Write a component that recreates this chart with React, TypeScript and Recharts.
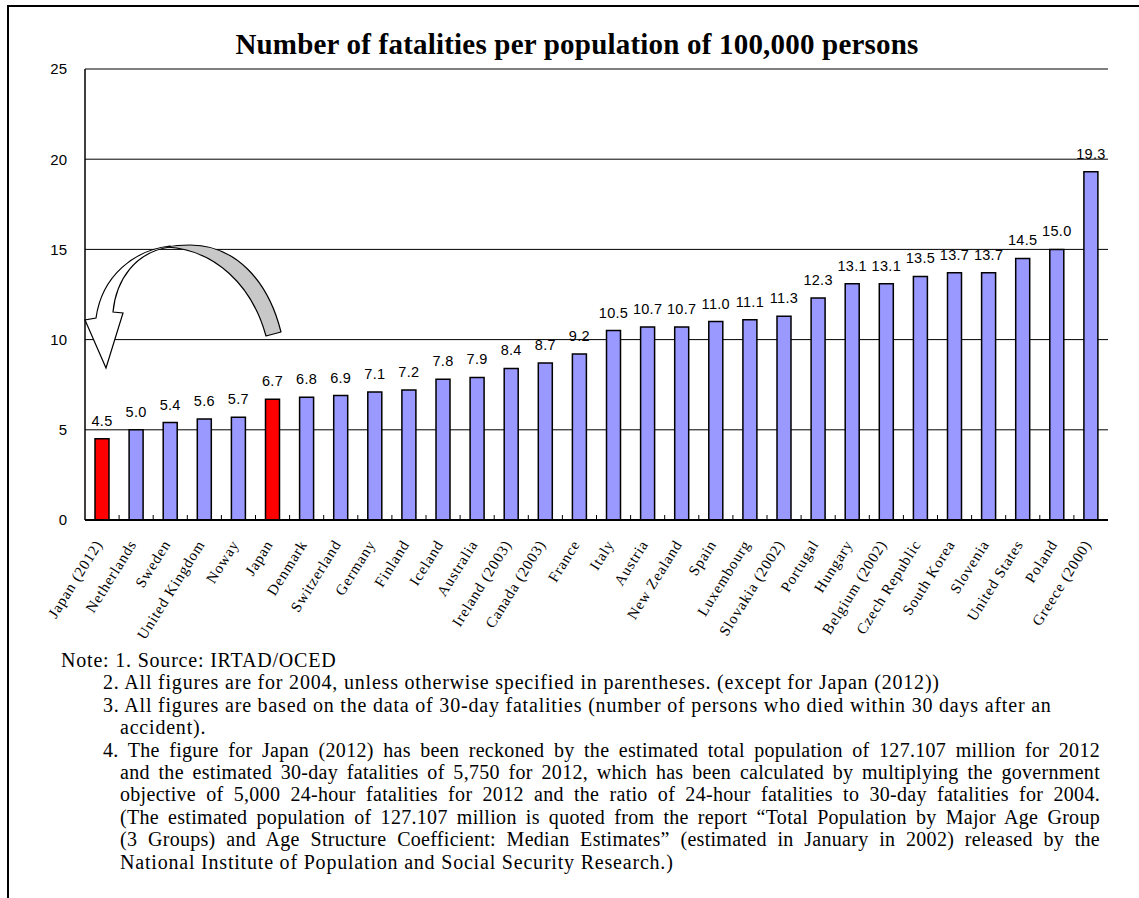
import React from "react";
import {
  BarChart,
  Bar,
  XAxis,
  YAxis,
  CartesianGrid,
  Cell,
  LabelList,
  ReferenceLine,
} from "recharts";

const categories: string[] = [
  "Japan (2012)",
  "Netherlands",
  "Sweden",
  "United Kingdom",
  "Noway",
  "Japan",
  "Denmark",
  "Switzerland",
  "Germany",
  "Finland",
  "Iceland",
  "Australia",
  "Ireland (2003)",
  "Canada (2003)",
  "France",
  "Italy",
  "Austria",
  "New Zealand",
  "Spain",
  "Luxembourg",
  "Slovakia (2002)",
  "Portugal",
  "Hungary",
  "Belgium (2002)",
  "Czech Republic",
  "South Korea",
  "Slovenia",
  "United States",
  "Poland",
  "Greece (2000)",
];

const fatalities: number[] = [
  4.5, 5.0, 5.4, 5.6, 5.7, 6.7, 6.8, 6.9, 7.1, 7.2, 7.8, 7.9, 8.4, 8.7, 9.2,
  10.5, 10.7, 10.7, 11.0, 11.1, 11.3, 12.3, 13.1, 13.1, 13.5, 13.7, 13.7, 14.5,
  15.0, 19.3,
];

const highlighted: string[] = ["Japan (2012)", "Japan"];

const yTicks: number[] = [0, 5, 10, 15, 20, 25];

const title = "Number of fatalities per population of 100,000 persons";

const noteLines: { text: string; indent: number; justify: boolean }[] = [
  { text: "Note: 1. Source: IRTAD/OCED", indent: 61, justify: false },
  {
    text: "2. All figures are for 2004, unless otherwise specified in parentheses. (except for Japan (2012))",
    indent: 103,
    justify: false,
  },
  {
    text: "3. All figures are based on the data of 30-day fatalities (number of persons who died within 30 days after an",
    indent: 103,
    justify: false,
  },
  { text: "accident).", indent: 120, justify: false },
  {
    text: "4. The figure for Japan (2012) has been reckoned by the estimated total population of 127.107 million for 2012",
    indent: 103,
    justify: true,
  },
  {
    text: "and the estimated 30-day fatalities of 5,750 for 2012, which has been calculated by multiplying the government",
    indent: 120,
    justify: true,
  },
  {
    text: "objective of 5,000 24-hour fatalities for 2012 and the ratio of 24-hour fatalities to 30-day fatalities for 2004.",
    indent: 120,
    justify: true,
  },
  {
    text: "(The estimated population of 127.107 million is quoted from the report \u201cTotal Population by Major Age Group",
    indent: 120,
    justify: true,
  },
  {
    text: "(3 Groups) and Age Structure Coefficient: Median Estimates\u201d (estimated in January in 2002) released by the",
    indent: 120,
    justify: true,
  },
  {
    text: "National Institute of Population and Social Security Research.)",
    indent: 120,
    justify: false,
  },
];

const data = categories.map((name, i) => ({ name, value: fatalities[i] }));

const CHART_W = 1139;
const CHART_H = 665;
const PLOT_LEFT = 85;
const PLOT_RIGHT = 1108;
const PLOT_TOP = 69;
const PLOT_BOTTOM = 520;
const BAND = (PLOT_RIGHT - PLOT_LEFT) / categories.length;

const SERIF = "'Liberation Serif', 'Times New Roman', serif";
const SANS = "'Liberation Sans', Arial, sans-serif";

const XTick = (props: any) => {
  const { x, y, payload, index } = props;
  const ax = x + 1;
  const ay = y + 24;
  return (
    <g>
      {index > 0 && (
        <line
          x1={x - BAND / 2}
          x2={x - BAND / 2}
          y1={y}
          y2={y - 5}
          stroke="#000"
          strokeWidth={1}
        />
      )}
      <text
        x={ax}
        y={ay}
        transform={`rotate(-58, ${ax}, ${ay})`}
        textAnchor="end"
        fontFamily={SERIF}
        fontSize={15}
        letterSpacing={0.9}
        fill="#000"
      >
        {payload.value}
      </text>
    </g>
  );
};

export default function App() {
  return (
    <div
      style={{
        position: "absolute",
        left: 0,
        top: 0,
        width: 1139,
        height: 898,
        background: "#fff",
        overflow: "hidden",
      }}
    >
      {/* outer frame */}
      <div
        style={{
          position: "absolute",
          left: 7,
          top: 5,
          width: 1132,
          height: 2,
          background: "#000",
        }}
      />
      <div
        style={{
          position: "absolute",
          left: 7,
          top: 5,
          width: 2,
          height: 893,
          background: "#000",
        }}
      />
      <div
        style={{
          position: "absolute",
          left: 0,
          top: 0,
          width: CHART_W,
          height: CHART_H,
        }}
      >
        <BarChart
          width={CHART_W}
          height={CHART_H}
          data={data}
          margin={{
            top: PLOT_TOP,
            right: CHART_W - PLOT_RIGHT,
            left: 0,
            bottom: 0,
          }}
          barCategoryGap={0}
        >
          <CartesianGrid
            horizontal={true}
            vertical={false}
            stroke="#000"
            strokeWidth={1}
          />
          <XAxis
            dataKey="name"
            interval={0}
            height={CHART_H - PLOT_BOTTOM}
            tickSize={0}
            tickMargin={0}
            tickLine={false}
            axisLine={{ stroke: "#000", strokeWidth: 2 }}
            tick={<XTick />}
          />
          <YAxis
            domain={[0, 25]}
            ticks={yTicks}
            width={PLOT_LEFT}
            tickLine={false}
            tickSize={10}
            tickMargin={8}
            axisLine={{ stroke: "#000", strokeWidth: 1.5 }}
            tick={{ fontFamily: SANS, fontSize: 15, fill: "#000" }}
            interval={0}
          />
          <YAxis
            yAxisId="r"
            orientation="right"
            domain={[0, 25]}
            width={0}
            tick={false}
            tickLine={false}
            axisLine={{ stroke: "#808080", strokeWidth: 1.5 }}
          />
          <ReferenceLine y={25} stroke="#808080" strokeWidth={1.5} />
          <Bar
            dataKey="value"
            barSize={14}
            stroke="#000"
            strokeWidth={1.5}
            isAnimationActive={false}
          >
            {data.map((d) => (
              <Cell
                key={d.name}
                fill={highlighted.includes(d.name) ? "#FF0000" : "#9999FF"}
              />
            ))}
            <LabelList
              dataKey="value"
              position="top"
              offset={13}
              formatter={(v: any) => Number(v).toFixed(1)}
              style={{
                fontFamily: SANS,
                fontSize: 14.5,
                letterSpacing: 0.3,
                fill: "#000",
              }}
            />
          </Bar>
        </BarChart>
      </div>

      {/* curved arrow annotation */}
      <svg
        width={CHART_W}
        height={CHART_H}
        style={{ position: "absolute", left: 0, top: 0, pointerEvents: "none" }}
      >
        <path
          d="M 281 332 C 268 280 235 245 190 245 C 180 245 172 246 167 247 C 215 250 252 285 266 336 Z"
          fill="#C8C8C8"
          stroke="#000"
          strokeWidth={1.2}
          strokeLinejoin="round"
        />
        <path
          d="M 170 246 C 135 250 102 275 96 318 L 85 320 L 106 368 L 123 313 L 113 312 C 116 280 135 252 170 247 Z"
          fill="#fff"
          stroke="#000"
          strokeWidth={1.2}
          strokeLinejoin="miter"
        />
      </svg>

      {/* title */}
      <div
        style={{
          position: "absolute",
          left: 0,
          top: 27,
          width: 1154,
          textAlign: "center",
          fontFamily: SERIF,
          fontWeight: "bold",
          fontSize: 29,
          letterSpacing: 0.2,
          lineHeight: "34px",
          color: "#000",
          whiteSpace: "nowrap",
        }}
      >
        {title}
      </div>

      {/* notes */}
      {noteLines.map((ln, i) => (
        <div
          key={i}
          style={{
            position: "absolute",
            left: ln.indent,
            top: 648 + i * 22.4,
            width: 1100 - ln.indent,
            fontFamily: SERIF,
            fontSize: 20,
            letterSpacing: ln.justify ? 0.3 : 0.8,
            lineHeight: "24px",
            color: "#000",
            whiteSpace: "nowrap",
            textAlign: ln.justify ? "justify" : "left",
            textAlignLast: ln.justify ? "justify" : "left",
          }}
        >
          {ln.text}
        </div>
      ))}
    </div>
  );
}
